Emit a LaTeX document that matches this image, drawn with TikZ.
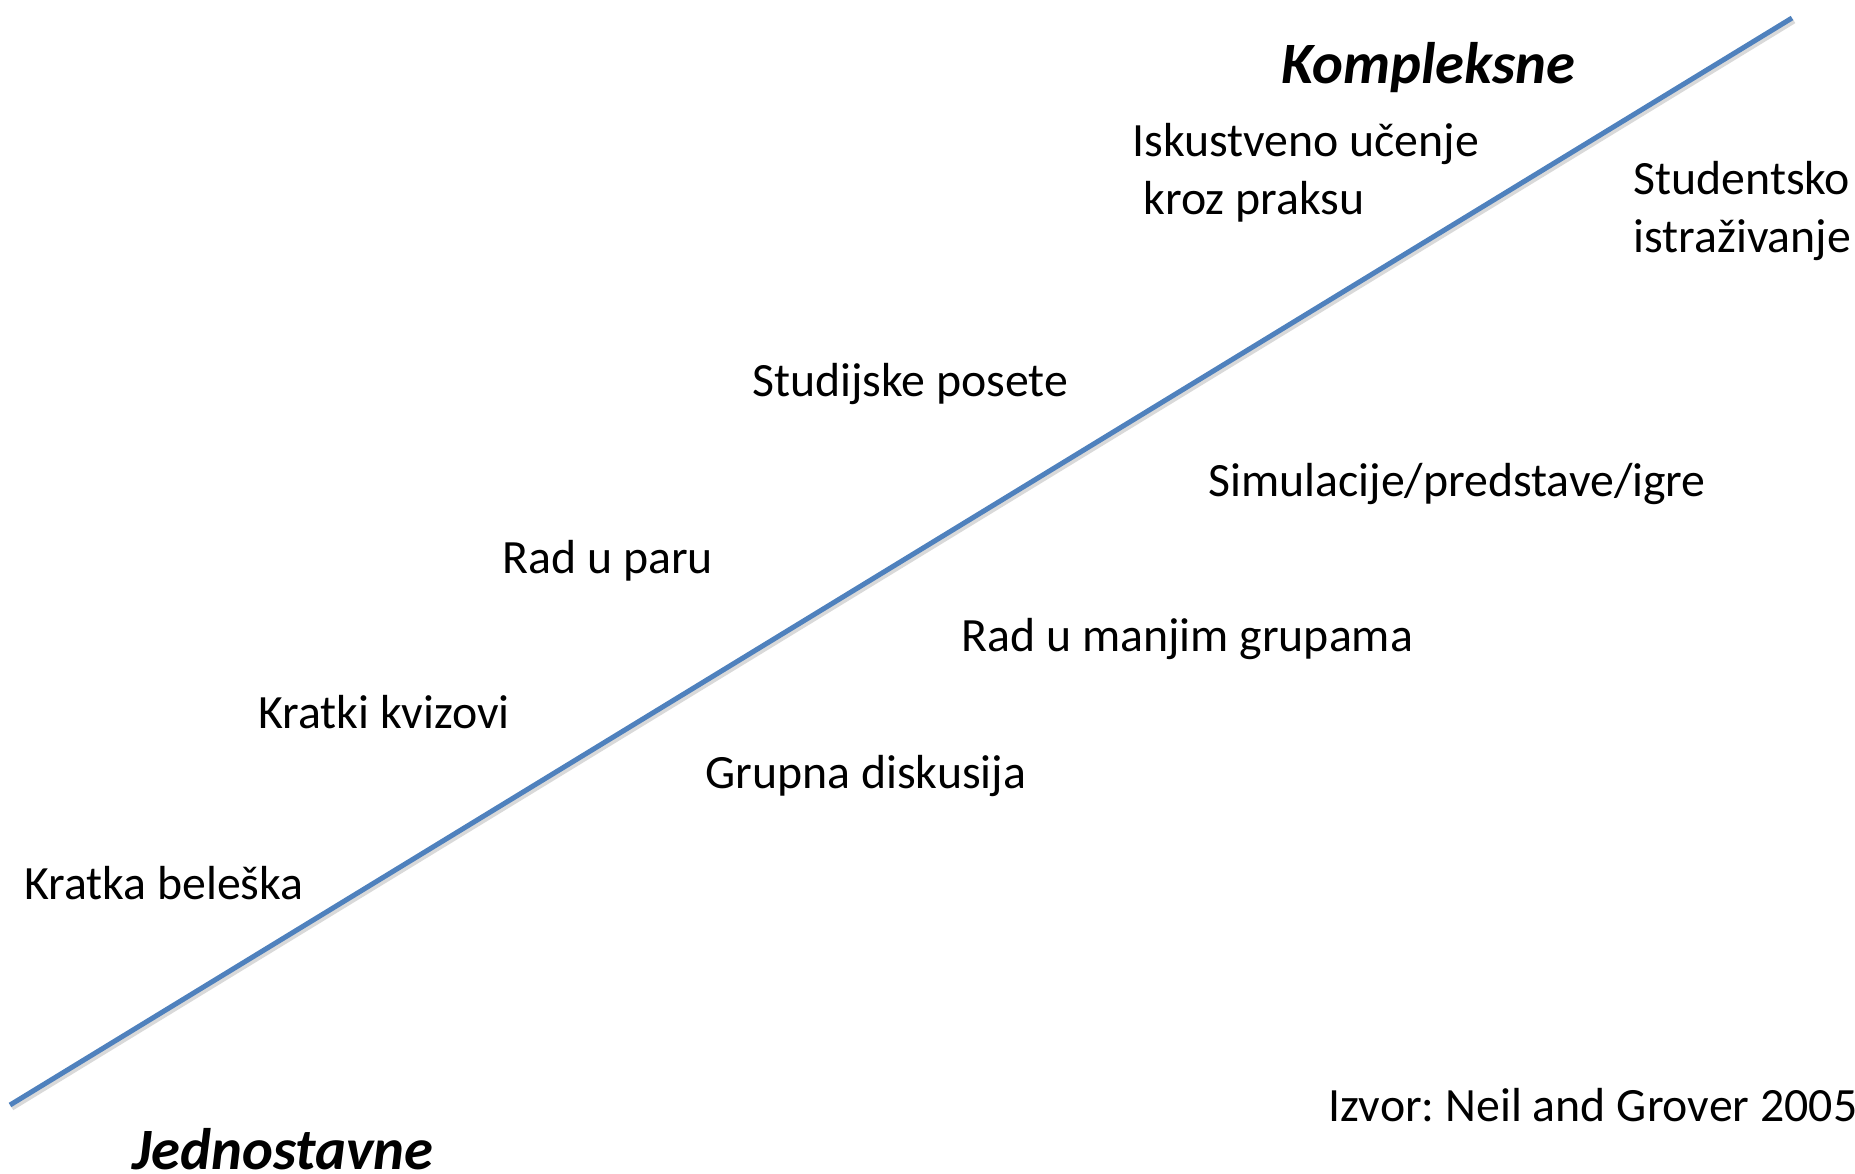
\documentclass[tikz,border=0pt]{standalone}
\usepackage{fontspec}
\setmainfont{Carlito}
\frenchspacing
\definecolor{lineblue}{RGB}{79,129,189}
\begin{document}
\begin{tikzpicture}[x=0.5pt,y=-0.5pt,
  lbl/.style={anchor=base west,inner sep=0pt,font=\fontsize{23.9}{28}\selectfont},
  endlbl/.style={anchor=base west,inner sep=0pt,font=\fontsize{29.3}{34}\selectfont\bfseries\itshape}]
\useasboundingbox (0,0) rectangle (1855,1173);
\coordinate (lo) at (10,1105);
\coordinate (hi) at (1792,18);
\draw[black!25,line width=2.5pt,opacity=0.6] ([shift={(2,3)}]lo) -- ([shift={(2,3)}]hi);
\draw[lineblue,line width=2.5pt] (lo) -- (hi);
\node[endlbl] (komp) at (1281,83) {Kompleksne};
\node[endlbl] (jedn) at (132,1169) {Jednostavne};
\node[lbl] (isk1) at (1132,156) {Iskustveno učenje};
\node[lbl] (isk2) at (1143,214) {kroz praksu};
\node[lbl] (stu1) at (1633,194) {Studentsko};
\node[lbl] (stu2) at (1633,252) {istraživanje};
\node[lbl] (posete) at (752,396) {Studijske posete};
\node[lbl] (sim) at (1208,496) {Simulacije/predstave/igre};
\node[lbl] (par) at (502,573) {Rad u paru};
\node[lbl] (manje) at (961,651) {Rad u manjim grupama};
\node[lbl] (kviz) at (258,728) {Kratki kvizovi};
\node[lbl] (disk) at (705,788) {Grupna diskusija};
\node[lbl] (bel) at (24,899) {Kratka beleška};
\node[lbl] (izvor) at (1328,1121) {Izvor: Neil and Grover 2005};
\end{tikzpicture}
\end{document}
